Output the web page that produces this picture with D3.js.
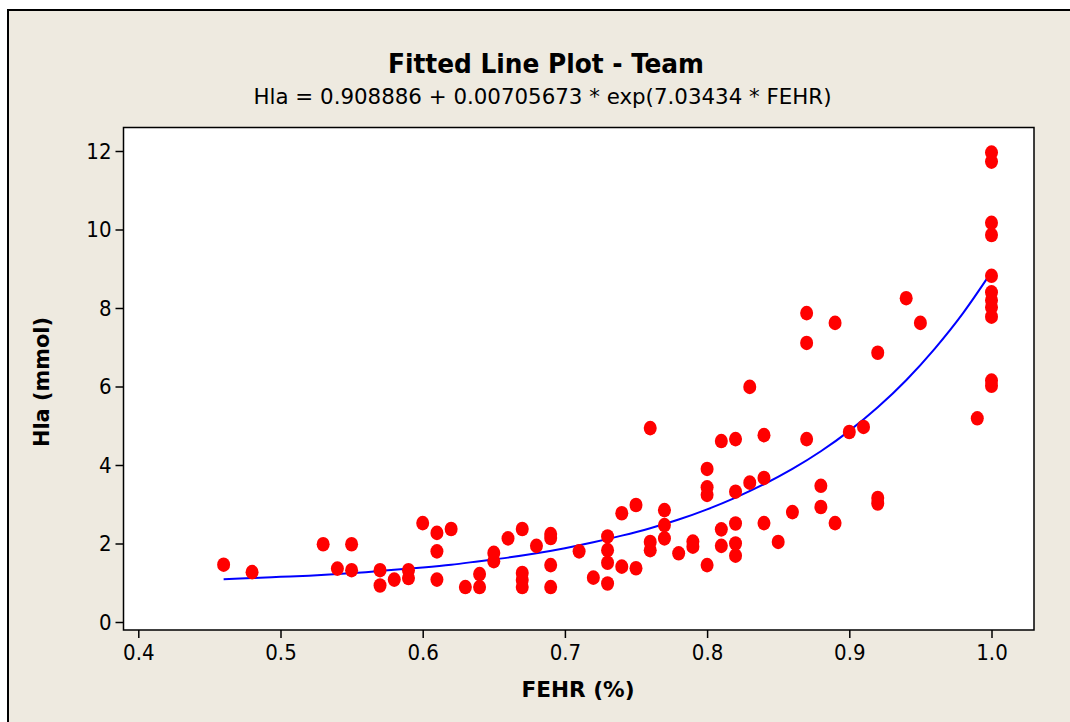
<!DOCTYPE html>
<html><head><meta charset="utf-8">
<script src="https://cdn.jsdelivr.net/npm/d3@7"></script>
<style>html,body{margin:0;padding:0;background:#fff;}svg{display:block;}</style>
</head><body>
<svg id="c" width="1070" height="722"></svg>
<script>
// ---- data ----
const title = "Fitted Line Plot - Team";
const subtitle = "Hla = 0.908886 + 0.00705673 * exp(7.03434 * FEHR)";
const xLabel = "FEHR (%)";
const yLabel = "Hla (mmol)";
const xTicks = [0.4, 0.5, 0.6, 0.7, 0.8, 0.9, 1.0];
const yTicks = [0, 2, 4, 6, 8, 10, 12];

const fehr = [
  0.46, 0.48, 0.53, 0.54, 0.55, 0.55, 0.57, 0.57, 0.58, 0.59, 0.59,
  0.60, 0.61, 0.61, 0.61, 0.62, 0.63, 0.64, 0.64, 0.65, 0.65, 0.66,
  0.67, 0.67, 0.67, 0.67, 0.68, 0.69, 0.69, 0.69, 0.69, 0.71, 0.72,
  0.73, 0.73, 0.73, 0.73, 0.74, 0.74, 0.75, 0.75, 0.76, 0.76, 0.76,
  0.77, 0.77, 0.77, 0.78, 0.79, 0.79, 0.80, 0.80, 0.80, 0.80,
  0.81, 0.81, 0.81, 0.82, 0.82, 0.82, 0.82, 0.82, 0.83, 0.83,
  0.84, 0.84, 0.84, 0.85, 0.86, 0.87, 0.87, 0.87, 0.88, 0.88,
  0.89, 0.89, 0.90, 0.91, 0.92, 0.92, 0.92, 0.94, 0.95, 0.99,
  1.00, 1.00, 1.00, 1.00, 1.00, 1.00, 1.00, 1.00, 1.00, 1.00, 1.00
];
const hla = [
  1.46, 1.27, 1.98, 1.36, 1.98, 1.32, 1.32, 0.93, 1.08, 1.32, 1.12,
  2.52, 2.27, 1.80, 1.08, 2.37, 0.89, 1.22, 0.89, 1.76, 1.55, 2.13,
  2.37, 1.25, 1.07, 0.89, 1.94, 2.24, 2.14, 1.45, 0.89, 1.80, 1.13,
  2.18, 1.83, 1.51, 0.98, 2.77, 1.41, 2.98, 1.37, 4.94, 2.04, 1.83,
  2.85, 2.47, 2.13, 1.75, 2.05, 1.92, 3.90, 3.43, 3.24, 1.45,
  4.61, 2.36, 1.94, 4.66, 3.32, 2.51, 2.00, 1.69, 5.99, 3.55,
  4.76, 3.67, 2.52, 2.04, 2.80, 7.87, 7.11, 4.66, 3.47, 2.93,
  7.62, 2.52, 4.84, 4.97, 6.86, 3.16, 3.02, 8.25, 7.62, 5.19,
  11.96, 11.73, 10.17, 9.86, 8.82, 8.40, 8.20, 8.02, 7.78, 6.15, 6.02
];

// fitted curve
const fitX = [0.46, 0.48, 0.50, 0.52, 0.54, 0.56, 0.58, 0.60, 0.62, 0.64, 0.66, 0.68, 0.70,
              0.72, 0.74, 0.76, 0.78, 0.80, 0.82, 0.84, 0.86, 0.88, 0.90, 0.92, 0.94, 0.96, 0.98, 1.00];
const fitY = [1.09, 1.12, 1.15, 1.18, 1.22, 1.27, 1.33, 1.39, 1.46, 1.55, 1.64, 1.75, 1.88,
              2.03, 2.20, 2.39, 2.61, 2.87, 3.17, 3.51, 3.90, 4.35, 4.87, 5.47, 6.16, 6.96, 7.87, 8.92];

// ---- drawing ----
const svg = d3.select("#c");
const W = 1070, H = 722;
const font = "'DejaVu Sans Condensed','DejaVu Sans',sans-serif";

// figure background
svg.append("rect").attr("x", 0).attr("y", 0).attr("width", W).attr("height", H).attr("fill", "#fff");
svg.append("rect").attr("x", 8).attr("y", 10).attr("width", W + 20).attr("height", H + 20)
  .attr("fill", "#EEEAE0").attr("stroke", "#000").attr("stroke-width", 2);

const frame = {left: 123.5, top: 127.5, right: 1034, bottom: 630};
const x = d3.scaleLinear().domain([0.4, 1.0]).range([138.3, 991.5]);
const y = d3.scaleLinear().domain([0, 12]).range([622, 151]);

svg.append("rect").attr("x", frame.left).attr("y", frame.top)
  .attr("width", frame.right - frame.left).attr("height", frame.bottom - frame.top)
  .attr("fill", "#fff");

// clip
svg.append("clipPath").attr("id", "clip").append("rect")
  .attr("x", frame.left).attr("y", frame.top)
  .attr("width", frame.right - frame.left).attr("height", frame.bottom - frame.top);

const plot = svg.append("g").attr("clip-path", "url(#clip)");

// fitted line
plot.append("path")
  .datum(fitX.map((v, i) => [v, fitY[i]]))
  .attr("d", d3.line().x(d => x(d[0])).y(d => y(d[1])).curve(d3.curveMonotoneX))
  .attr("fill", "none").attr("stroke", "#0000FF").attr("stroke-width", 2);

// points
plot.selectAll("ellipse.pt").data(fehr.map((v, i) => [v, hla[i]])).join("ellipse")
  .attr("class", "pt")
  .attr("cx", d => x(d[0])).attr("cy", d => y(d[1]))
  .attr("rx", 6.5).attr("ry", 7.3).attr("fill", "#FF0000");

// frame
svg.append("rect").attr("x", frame.left).attr("y", frame.top)
  .attr("width", frame.right - frame.left).attr("height", frame.bottom - frame.top)
  .attr("fill", "none").attr("stroke", "#000").attr("stroke-width", 1.5);

// axes
const xAxis = d3.axisBottom(x).tickValues(xTicks).tickFormat(d3.format(".1f")).tickSizeOuter(0).tickSize(8).tickPadding(6);
const gx = svg.append("g").attr("transform", `translate(0,${frame.bottom})`).call(xAxis);
gx.select(".domain").remove();
gx.selectAll("line").attr("stroke", "#000").attr("stroke-width", 1.5);
gx.selectAll("text").attr("font-family", font).attr("font-size", 22).attr("fill", "#000");

const yAxis = d3.axisLeft(y).tickValues(yTicks).tickFormat(d3.format("d")).tickSizeOuter(0).tickSize(8).tickPadding(4);
const gy = svg.append("g").attr("transform", `translate(${frame.left},0)`).call(yAxis);
gy.select(".domain").remove();
gy.selectAll("line").attr("stroke", "#000").attr("stroke-width", 1.5);
gy.selectAll("text").attr("font-family", font).attr("font-size", 22).attr("fill", "#000");

// titles
svg.append("text").attr("x", 546).attr("y", 73).attr("text-anchor", "middle")
  .attr("font-family", font).attr("font-weight", "bold").attr("font-size", 27)
  .attr("textLength", 316).attr("lengthAdjust", "spacingAndGlyphs").text(title);
svg.append("text").attr("x", 542.5).attr("y", 104).attr("text-anchor", "middle")
  .attr("font-family", font).attr("font-size", 22)
  .attr("textLength", 578).attr("lengthAdjust", "spacingAndGlyphs").text(subtitle);

svg.append("text").attr("x", 578).attr("y", 697).attr("text-anchor", "middle")
  .attr("font-family", font).attr("font-weight", "bold").attr("font-size", 21)
  .attr("textLength", 113).attr("lengthAdjust", "spacingAndGlyphs").text(xLabel);
svg.append("text").attr("transform", "translate(49,382) rotate(-90)").attr("text-anchor", "middle")
  .attr("font-family", font).attr("font-weight", "bold").attr("font-size", 21)
  .attr("textLength", 130).attr("lengthAdjust", "spacingAndGlyphs").text(yLabel);
</script>
</body></html>
